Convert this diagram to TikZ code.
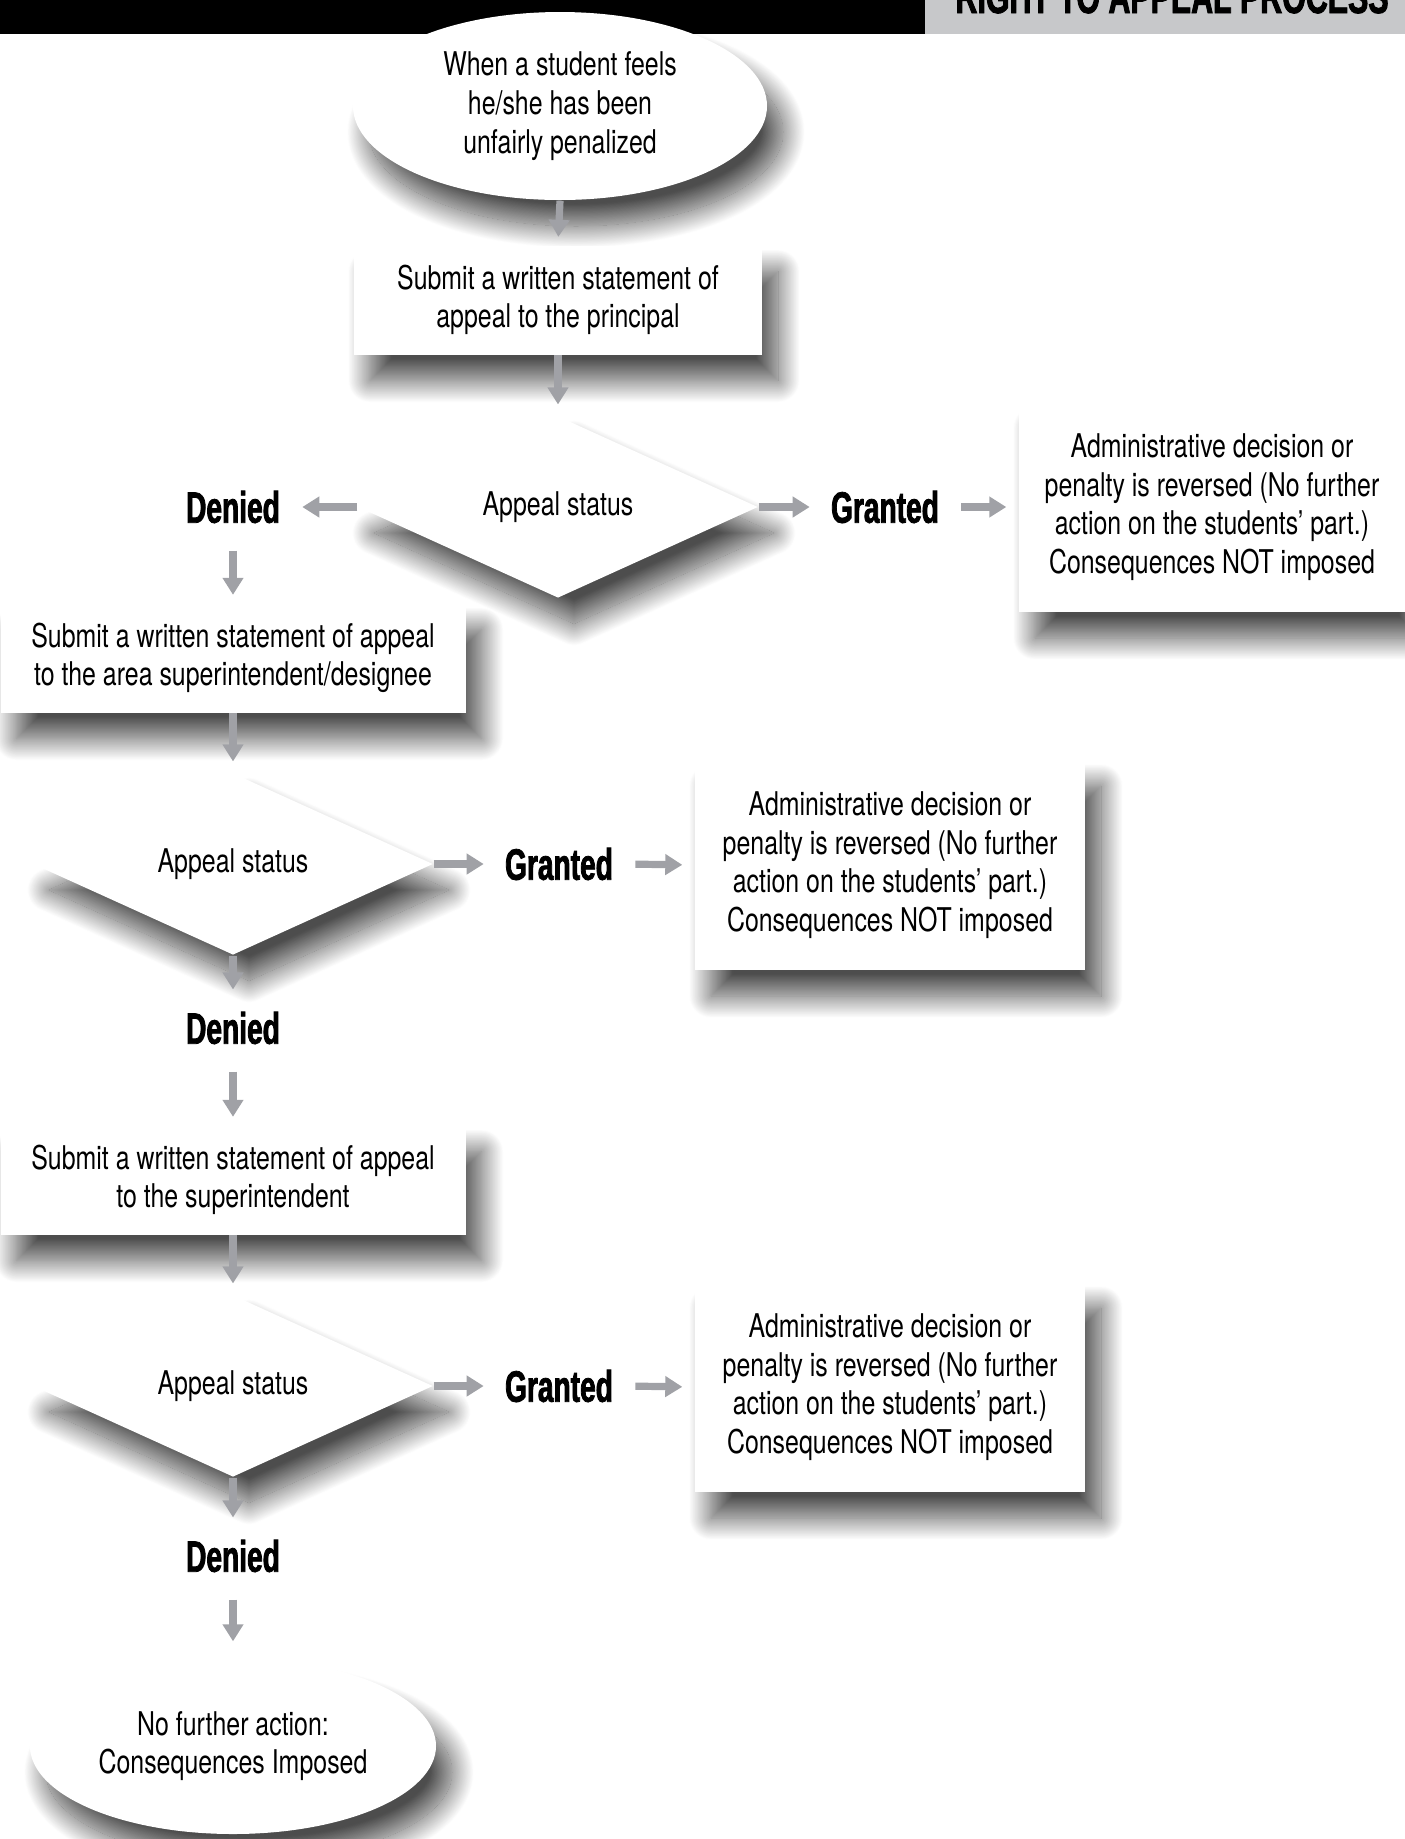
\documentclass[tikz,border=0pt]{standalone}
\usepackage{fontspec}
\setmainfont{TeX Gyre Heros}[FakeStretch=0.762]
\newfontfamily\heavyfont{Liberation Sans}[FakeStretch=0.64,FakeBold=1.8]
\usetikzlibrary{shapes.geometric,arrows.meta,shadows.blur}
\definecolor{arrowgray}{RGB}{160,161,166}
\definecolor{bandgray}{RGB}{199,200,202}

\begin{document}
\begin{tikzpicture}[x=0.1mm,y=-0.1mm,
	every node/.style={font=\fontsize{9.3}{11}\selectfont,align=center,text=black},
	shade/.style={blur shadow={shadow xshift=1.6mm,shadow yshift=-2.6mm,shadow blur radius=2.2mm,shadow blur steps=40,shadow opacity=70}},
	startstop/.style={ellipse,fill=white,shade,inner sep=0pt},
	stepbox/.style={rectangle,fill=white,shade,inner sep=0pt},
	decision/.style={diamond,fill=white,shade,minimum width=40mm,minimum height=17.7mm,inner sep=0pt},
	verdict/.style={font=\heavyfont\bfseries\fontsize{12.5}{14}\selectfont},
	flow/.style={line width=0.72mm,arrowgray,-{Triangle[length=1.7mm,width=2mm]}}]
	\useasboundingbox (0,0) rectangle (1405,1839);
	% header band
	\fill[black] (0,0) rectangle (925,34);
	\fill[bandgray] (925,0) rectangle (1405,34);
	\begin{scope}
		\clip (925,0) rectangle (1405,34);
		\node[anchor=base east,font=\heavyfont\bfseries\fontsize{13.5}{15}\selectfont] (title) at (1401,13) {RIGHT TO APPEAL PROCESS};
	\end{scope}
	% first level
	\node[startstop,minimum width=41.4mm,minimum height=18.8mm] (feel) at (560,106) {When a student feels\\he/she has been\\unfairly penalized};
	\node[stepbox,minimum width=40.8mm,minimum height=10.9mm] (principal) at (558,300) {Submit a written statement of\\appeal to the principal};
	\node[decision] (status1) at (558,507) {Appeal status};
	\node[verdict] (denied1) at (233,507) {Denied};
	\node[verdict] (granted1) at (885,507) {Granted};
	\node[stepbox,minimum width=38.6mm,minimum height=21mm] (reversed1) at (1212,507) {Administrative decision or\\penalty is reversed (No further\\action on the students' part.)\\Consequences NOT imposed};
	% second level
	\node[stepbox,minimum width=46.5mm,minimum height=10.9mm] (area) at (233,658) {Submit a written statement of appeal\\to the area superintendent/designee};
	\node[decision] (status2) at (233,864) {Appeal status};
	\node[verdict] (granted2) at (559,864) {Granted};
	\node[stepbox,minimum width=39mm,minimum height=21mm] (reversed2) at (890,865) {Administrative decision or\\penalty is reversed (No further\\action on the students' part.)\\Consequences NOT imposed};
	\node[verdict] (denied2) at (233,1028) {Denied};
	% third level
	\node[stepbox,minimum width=46.5mm,minimum height=10.9mm] (super) at (233,1180) {Submit a written statement of appeal\\to the superintendent};
	\node[decision] (status3) at (233,1386) {Appeal status};
	\node[verdict] (granted3) at (559,1386) {Granted};
	\node[stepbox,minimum width=39mm,minimum height=21mm] (reversed3) at (890,1387) {Administrative decision or\\penalty is reversed (No further\\action on the students' part.)\\Consequences NOT imposed};
	\node[verdict] (denied3) at (233,1556) {Denied};
	\node[startstop,minimum width=40.6mm,minimum height=17.6mm] (imposed) at (233,1746) {No further action:\\Consequences Imposed};
	% connectors
	\draw[flow,shorten >=0.8mm] (feel.south) -- (principal.north);
	\draw[flow,shorten >=1.1mm] (principal.south) -- (status1.north);
	\draw[flow,shorten >=1mm] (status1.west) -- (denied1.east);
	\draw[flow,shorten >=0.9mm] (status1.east) -- (granted1.west);
	\draw[flow,shorten <=1mm,shorten >=1.2mm] (granted1.east) -- (reversed1.west);
	\draw[flow,shorten <=1.5mm,shorten >=0.8mm] (denied1.south) -- (area.north);
	\draw[flow,shorten >=1.1mm] (area.south) -- (status2.north);
	\draw[flow,shorten >=0.9mm] (status2.east) -- (granted2.west);
	\draw[flow,shorten <=1mm,shorten >=1.2mm] (granted2.east) -- (reversed2.west);
	\draw[flow,shorten >=1mm] (status2.south) -- (denied2.north);
	\draw[flow,shorten <=1.5mm,shorten >=0.8mm] (denied2.south) -- (super.north);
	\draw[flow,shorten >=1.1mm] (super.south) -- (status3.north);
	\draw[flow,shorten >=0.9mm] (status3.east) -- (granted3.west);
	\draw[flow,shorten <=1mm,shorten >=1.2mm] (granted3.east) -- (reversed3.west);
	\draw[flow,shorten >=1mm] (status3.south) -- (denied3.north);
	\draw[flow,shorten <=1.5mm,shorten >=1.6mm] (denied3.south) -- (imposed.north);
\end{tikzpicture}
\end{document}
